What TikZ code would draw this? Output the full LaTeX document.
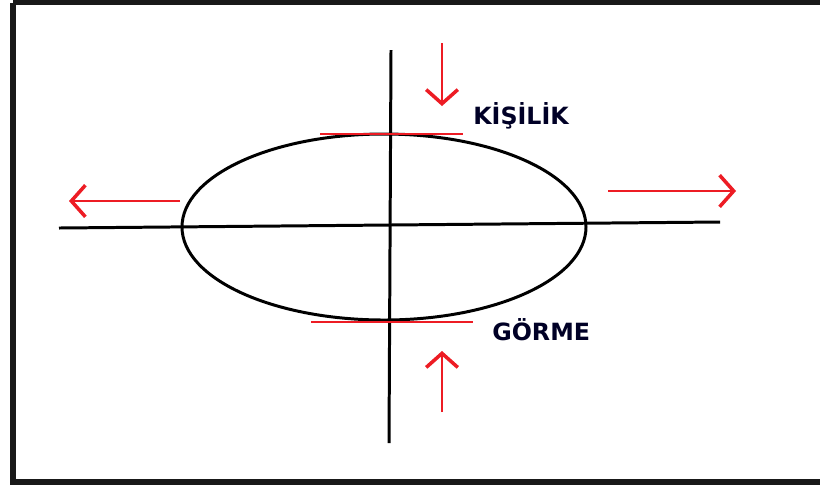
\documentclass[tikz,border=0pt]{standalone}
\usepackage{fontspec}
\setmainfont{DejaVu Sans}
\usetikzlibrary{arrows.meta}
\definecolor{paintred}{RGB}{237,28,36}
\tikzset{
  axis/.style={line width=1.7pt,black},
  tangent/.style={line width=1.5pt,paintred},
  push/.style={line width=1.6pt,paintred,-{Straight Barb[length=8pt,width=18pt,line width=2pt]}},
  lbl/.style={font=\bfseries\fontsize{13.5}{15}\selectfont,text=black!85!blue,inner sep=0pt}
}
\begin{document}
\begin{tikzpicture}[x=0.02cm,y=-0.02cm]
\useasboundingbox (0,0) rectangle (820,488);
\fill[white] (0,0) rectangle (820,488);
\draw[line width=3.4pt,black!90] (13,2.5) -- (13,481.5) -- (840,481.5);
\draw[line width=3.4pt,black!90] (13,2.5) -- (840,2.5);

\draw[line width=1.7pt] (384,227) ellipse [x radius=202,y radius=93];

\coordinate (l) at (59,228);
\coordinate (r) at (720,222);
\coordinate (t) at (391,50);
\coordinate (b) at (389,443);
\draw[axis] (l) -- (r);
\draw[axis] (t) -- (b);

\coordinate (ta) at (320,134);
\coordinate (tb) at (463,134);
\coordinate (ba) at (311,322);
\coordinate (bb) at (473,322);
\draw[tangent] (ta) -- (tb);
\draw[tangent] (ba) -- (bb);

\coordinate (d1) at (442,43);
\coordinate (d2) at (442,106);
\coordinate (u1) at (442,412);
\coordinate (u2) at (442,351);
\coordinate (w1) at (180,201);
\coordinate (w2) at (69,201);
\coordinate (e1) at (608,191);
\coordinate (e2) at (736,191);
\draw[push] (d1) -- (d2);
\draw[push] (u1) -- (u2);
\draw[push] (w1) -- (w2);
\draw[push] (e1) -- (e2);

\node[lbl,anchor=west] (kisilik) at (473,116) {KİŞİLİK};
\node[lbl,anchor=west] (gorme) at (492,330) {GÖRME};
\end{tikzpicture}
\end{document}
